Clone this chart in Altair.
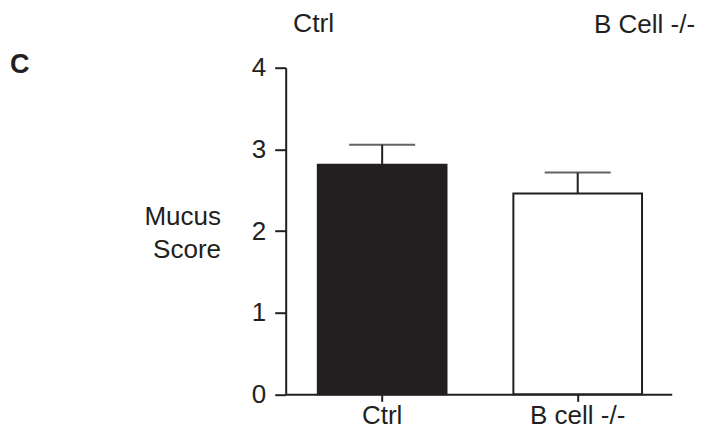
import altair as alt
import pandas as pd

# ---- data ----
groups = ["Ctrl", "B cell -/-"]
means = [2.81, 2.46]
sems = [0.245, 0.255]
fills = ["#231f20", "#ffffff"]
y_ticks = [0, 1, 2, 3, 4]
top_labels = ["Ctrl", "B Cell -/-"]
panel_label = "C"
y_title = ["Mucus", "Score"]

INK = "#231f20"
FONT = "Liberation Sans"

df = pd.DataFrame({
    "group": groups,
    "mean": means,
    "upper": [m + s for m, s in zip(means, sems)],
    "fill": fills,
})

x_enc = alt.X(
    "group:N",
    sort=groups,
    scale=alt.Scale(paddingInner=0.342, paddingOuter=0.158, align=0.52),
    axis=alt.Axis(
        title=None, labelAngle=0, labelFontSize=26, labelFont=FONT, labelColor=INK,
        tickSize=7, tickWidth=2, tickColor=INK, domainColor=INK, domainWidth=2,
        labelPadding=1.5, labelBaseline="top",
    ),
)
y_scale = alt.Scale(domain=[0, 4], nice=False, zero=True)
y_axis = alt.Axis(
    title=None, values=y_ticks, format="d", labelFontSize=26, labelFont=FONT,
    labelColor=INK, tickSize=11, tickWidth=2, tickColor=INK, domainColor=INK,
    domainWidth=2, labelPadding=9, grid=False, labelFlush=False,
)

base = alt.Chart(df)

bars = base.mark_bar(stroke=INK, strokeWidth=2).encode(
    x=x_enc,
    y=alt.Y("mean:Q", scale=y_scale, axis=y_axis),
    fill=alt.Fill("fill:N", scale=None, legend=None),
)

err = base.mark_rule(color=INK, strokeWidth=2).encode(
    x=alt.X("group:N", sort=groups),
    y=alt.Y("mean:Q"),
    y2="upper:Q",
)

cap = base.mark_tick(color=INK, thickness=2, size=66, orient="horizontal").encode(
    x=alt.X("group:N", sort=groups),
    y=alt.Y("upper:Q"),
)

top1 = alt.Chart(pd.DataFrame({"t": [top_labels[0]]})).mark_text(
    font=FONT, fontSize=26.5, color=INK, align="left", baseline="alphabetic"
).encode(text="t:N", x=alt.value(7.3), y=alt.value(-36))

top2 = alt.Chart(pd.DataFrame({"t": [top_labels[1]]})).mark_text(
    font=FONT, fontSize=26, color=INK, align="left", baseline="alphabetic"
).encode(text="t:N", x=alt.value(308.3), y=alt.value(-34.7))

panel = alt.Chart(pd.DataFrame({"t": [panel_label]})).mark_text(
    font=FONT, fontSize=27, fontWeight="bold", color=INK, align="left", baseline="alphabetic"
).encode(text="t:N", x=alt.value(-275.7), y=alt.value(5.3))

ytitle = alt.Chart(pd.DataFrame({"t": [y_title]})).mark_text(
    font=FONT, fontSize=26, color=INK, align="right", baseline="alphabetic", lineHeight=33
).encode(text="t", x=alt.value(-64.7), y=alt.value(157.3))

chart = alt.layer(bars, err, cap, top1, top2, panel, ytitle).properties(
    width=386,
    height=326.6,
    background="white",
    autosize=alt.AutoSizeParams(type="none"),
    padding={"left": 277.7, "top": 59.7, "right": 25.3, "bottom": 35.7},
).configure_view(strokeWidth=0)

chart.save("out.html", embed_options={"renderer": "svg", "actions": False})
